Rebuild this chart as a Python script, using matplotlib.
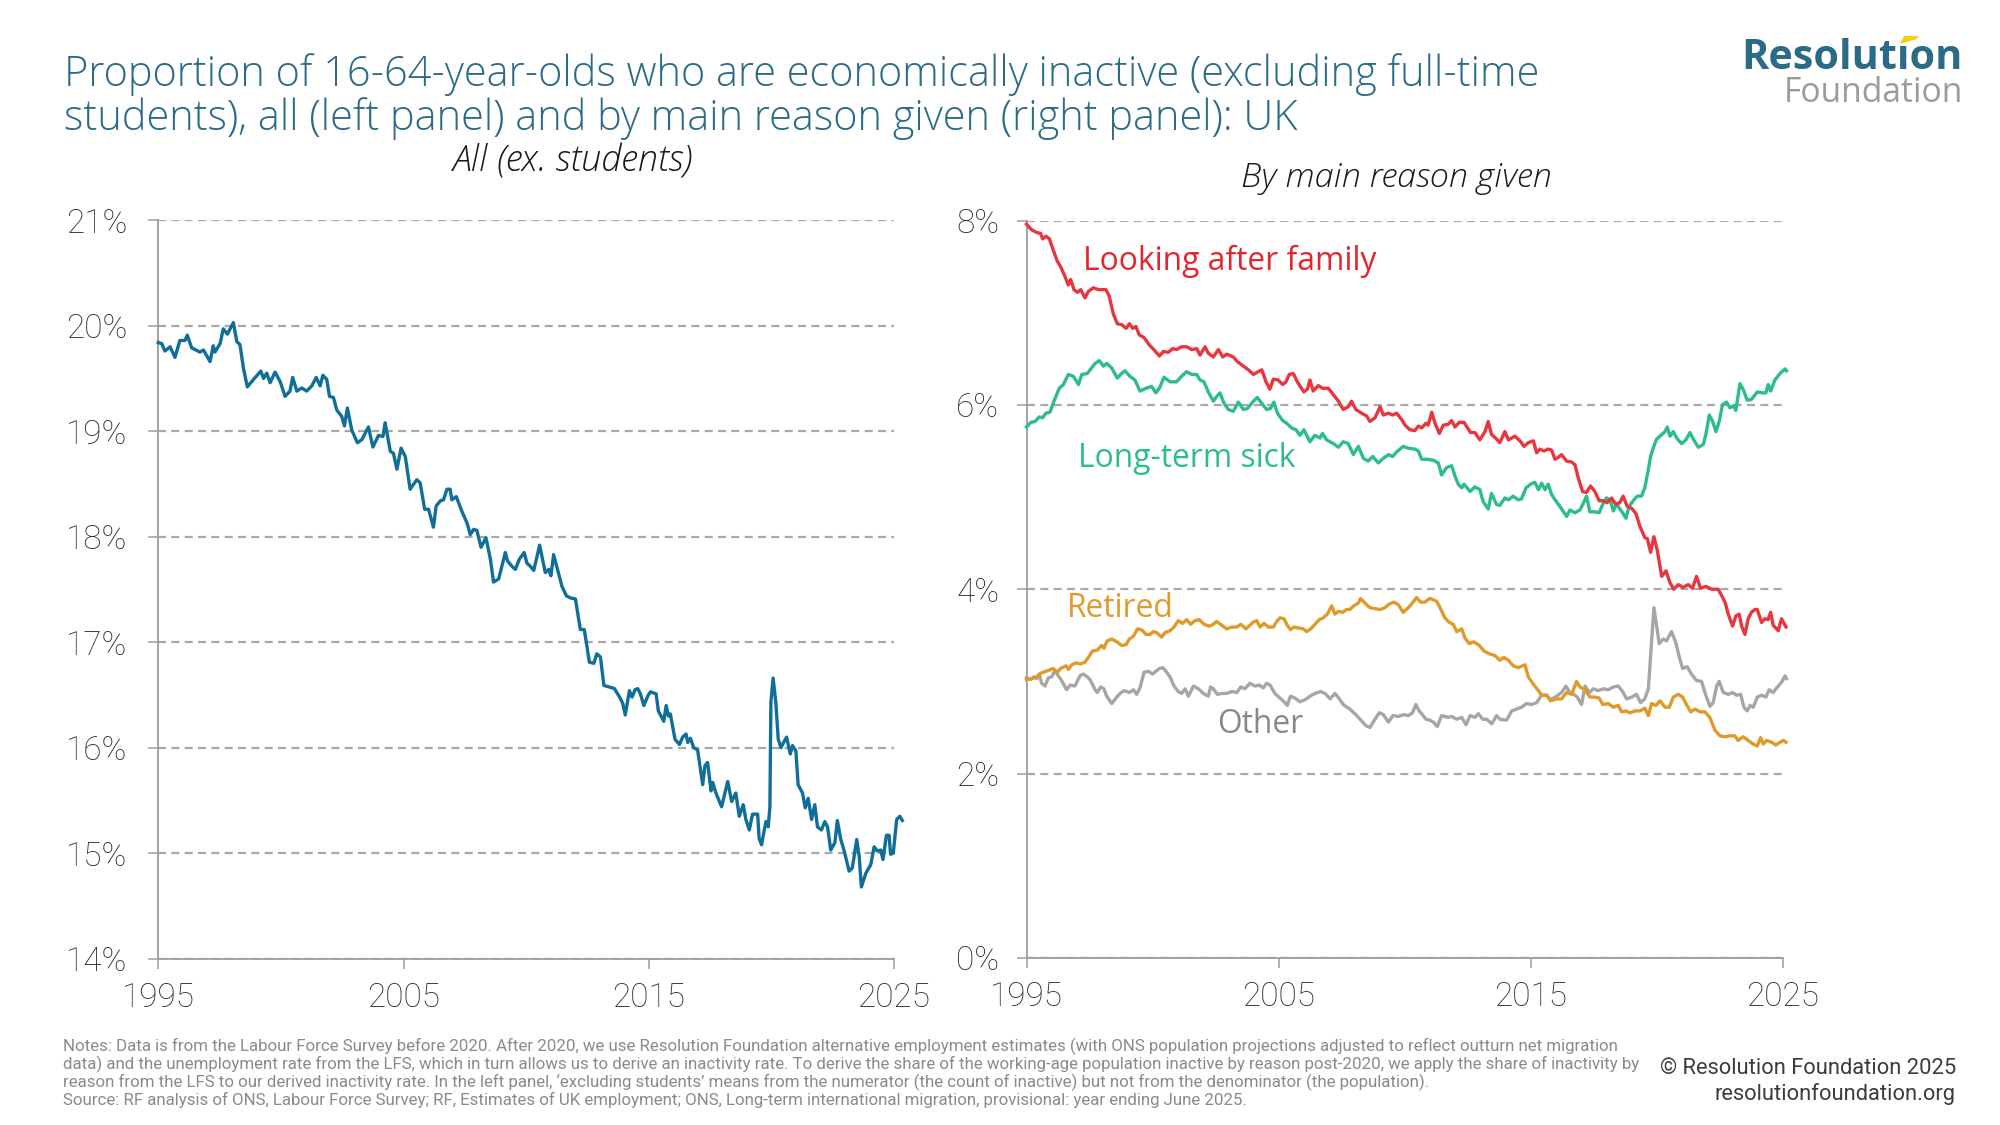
import matplotlib
matplotlib.use("Agg")
import matplotlib.pyplot as plt
from matplotlib.patches import Polygon

# ---------------- data ----------------
x_ticks = [1995, 2005, 2015, 2025]
left_y_ticks = [14, 15, 16, 17, 18, 19, 20, 21]
right_y_ticks = [0, 2, 4, 6, 8]

# All inactive (ex. students), % of 16-64 population
all_inactive = [
    (1995.00, 19.84), (1995.14, 19.83), (1995.27, 19.76), (1995.48, 19.80), (1995.68, 19.70),
    (1995.88, 19.86), (1996.09, 19.86), (1996.18, 19.91), (1996.36, 19.79), (1996.70, 19.75),
    (1996.84, 19.77), (1997.11, 19.66), (1997.24, 19.81), (1997.31, 19.75), (1997.52, 19.83),
    (1997.65, 19.97), (1997.82, 19.92), (1998.06, 20.03), (1998.20, 19.85), (1998.33, 19.82),
    (1998.47, 19.60), (1998.63, 19.42), (1998.88, 19.49), (1999.18, 19.57), (1999.29, 19.50),
    (1999.42, 19.55), (1999.56, 19.46), (1999.76, 19.56), (1999.97, 19.47), (2000.17, 19.33),
    (2000.37, 19.38), (2000.48, 19.51), (2000.65, 19.38), (2000.85, 19.41), (2001.05, 19.38),
    (2001.26, 19.43), (2001.44, 19.51), (2001.60, 19.43), (2001.71, 19.53), (2001.87, 19.49),
    (2001.98, 19.33), (2002.14, 19.32), (2002.28, 19.20), (2002.48, 19.14), (2002.59, 19.05),
    (2002.71, 19.22), (2002.89, 19.01), (2003.12, 18.89), (2003.30, 18.92), (2003.57, 19.04),
    (2003.75, 18.85), (2003.98, 18.96), (2004.16, 18.95), (2004.25, 19.08), (2004.46, 18.81),
    (2004.59, 18.79), (2004.73, 18.64), (2004.90, 18.84), (2005.07, 18.76), (2005.27, 18.45),
    (2005.54, 18.54), (2005.68, 18.51), (2005.86, 18.26), (2006.02, 18.26), (2006.22, 18.09),
    (2006.33, 18.29), (2006.50, 18.34), (2006.63, 18.35), (2006.77, 18.45), (2006.90, 18.45),
    (2006.97, 18.35), (2007.15, 18.38), (2007.38, 18.24), (2007.59, 18.13), (2007.72, 18.02),
    (2007.86, 18.07), (2007.99, 18.06), (2008.16, 17.90), (2008.36, 17.99), (2008.54, 17.79),
    (2008.67, 17.57), (2008.88, 17.60), (2009.01, 17.72), (2009.15, 17.85), (2009.24, 17.77),
    (2009.42, 17.72), (2009.56, 17.69), (2009.73, 17.79), (2009.92, 17.85), (2010.03, 17.75),
    (2010.17, 17.72), (2010.31, 17.68), (2010.55, 17.92), (2010.78, 17.66), (2010.92, 17.69),
    (2011.01, 17.63), (2011.12, 17.83), (2011.46, 17.53), (2011.64, 17.44), (2011.80, 17.42),
    (2012.01, 17.41), (2012.21, 17.12), (2012.37, 17.12), (2012.58, 16.81), (2012.76, 16.80),
    (2012.88, 16.89), (2013.03, 16.86), (2013.17, 16.59), (2013.47, 16.57), (2013.60, 16.56),
    (2013.81, 16.48), (2013.94, 16.42), (2014.04, 16.31), (2014.21, 16.54), (2014.32, 16.48),
    (2014.44, 16.55), (2014.55, 16.56), (2014.66, 16.51), (2014.80, 16.40), (2014.96, 16.49),
    (2015.07, 16.53), (2015.30, 16.51), (2015.39, 16.35), (2015.50, 16.30), (2015.61, 16.25),
    (2015.71, 16.40), (2015.80, 16.30), (2015.88, 16.32), (2016.07, 16.08), (2016.25, 16.03),
    (2016.38, 16.10), (2016.52, 16.13), (2016.59, 16.05), (2016.70, 16.09), (2016.83, 16.00),
    (2016.99, 15.98), (2017.06, 15.87), (2017.20, 15.65), (2017.29, 15.83), (2017.40, 15.86),
    (2017.54, 15.59), (2017.61, 15.67), (2017.74, 15.57), (2017.97, 15.44), (2018.22, 15.68),
    (2018.38, 15.49), (2018.55, 15.57), (2018.69, 15.35), (2018.85, 15.46), (2018.96, 15.32),
    (2019.10, 15.22), (2019.23, 15.37), (2019.44, 15.37), (2019.50, 15.14), (2019.60, 15.08),
    (2019.71, 15.22), (2019.78, 15.30), (2019.87, 15.25), (2019.94, 15.44), (2019.98, 16.43),
    (2020.07, 16.66), (2020.18, 16.43), (2020.28, 16.08), (2020.39, 16.00), (2020.50, 16.05),
    (2020.62, 16.10), (2020.77, 15.94), (2020.86, 16.02), (2021.00, 15.97), (2021.09, 15.65),
    (2021.27, 15.57), (2021.38, 15.43), (2021.50, 15.52), (2021.64, 15.32), (2021.77, 15.46),
    (2021.88, 15.25), (2022.04, 15.22), (2022.18, 15.30), (2022.29, 15.25), (2022.42, 15.03),
    (2022.59, 15.10), (2022.69, 15.31), (2022.83, 15.13), (2022.96, 15.03), (2023.17, 14.83),
    (2023.30, 14.86), (2023.48, 15.13), (2023.58, 14.97), (2023.67, 14.68), (2023.85, 14.81),
    (2024.05, 14.89), (2024.19, 15.06), (2024.32, 15.02), (2024.46, 15.03), (2024.55, 14.94),
    (2024.69, 15.17), (2024.80, 15.17), (2024.86, 14.99), (2024.97, 15.00), (2025.11, 15.32),
    (2025.24, 15.35), (2025.34, 15.31),
]

# By main reason (% of 16-64 population)
looking_after_family = [
    (1995.00, 7.96), (1995.20, 7.90), (1995.40, 7.87), (1995.56, 7.86), (1995.64, 7.80),
    (1995.77, 7.83), (1995.91, 7.80), (1996.06, 7.68), (1996.22, 7.56), (1996.35, 7.50),
    (1996.53, 7.39), (1996.66, 7.30), (1996.75, 7.36), (1996.88, 7.25), (1997.02, 7.22),
    (1997.15, 7.25), (1997.32, 7.16), (1997.45, 7.23), (1997.65, 7.27), (1997.85, 7.25),
    (1998.15, 7.25), (1998.28, 7.18), (1998.44, 6.99), (1998.60, 6.88), (1998.78, 6.87),
    (1998.95, 6.83), (1999.08, 6.88), (1999.21, 6.83), (1999.34, 6.85), (1999.47, 6.76),
    (1999.66, 6.73), (1999.87, 6.65), (2000.05, 6.60), (2000.27, 6.53), (2000.43, 6.58),
    (2000.62, 6.57), (2000.80, 6.61), (2000.95, 6.60), (2001.15, 6.63), (2001.35, 6.63),
    (2001.55, 6.60), (2001.75, 6.61), (2001.88, 6.54), (2002.08, 6.63), (2002.21, 6.56),
    (2002.41, 6.52), (2002.61, 6.60), (2002.78, 6.52), (2002.94, 6.55), (2003.20, 6.52),
    (2003.36, 6.47), (2003.60, 6.42), (2003.80, 6.38), (2004.00, 6.33), (2004.19, 6.36),
    (2004.33, 6.38), (2004.50, 6.25), (2004.65, 6.17), (2004.79, 6.28), (2004.98, 6.27),
    (2005.16, 6.22), (2005.29, 6.25), (2005.42, 6.33), (2005.58, 6.34), (2005.74, 6.25),
    (2006.00, 6.14), (2006.14, 6.17), (2006.24, 6.27), (2006.37, 6.15), (2006.57, 6.21),
    (2006.74, 6.18), (2006.97, 6.18), (2007.17, 6.11), (2007.37, 6.04), (2007.56, 5.95),
    (2007.76, 5.98), (2007.89, 6.04), (2008.06, 5.95), (2008.29, 5.91), (2008.49, 5.88),
    (2008.62, 5.82), (2008.82, 5.86), (2009.02, 5.98), (2009.15, 5.89), (2009.35, 5.91),
    (2009.52, 5.89), (2009.68, 5.91), (2009.88, 5.84), (2010.01, 5.78), (2010.21, 5.73),
    (2010.40, 5.72), (2010.54, 5.77), (2010.67, 5.75), (2010.84, 5.80), (2010.93, 5.78),
    (2011.07, 5.92), (2011.20, 5.80), (2011.37, 5.69), (2011.53, 5.78), (2011.73, 5.79),
    (2011.86, 5.83), (2011.99, 5.76), (2012.16, 5.81), (2012.35, 5.81), (2012.61, 5.70),
    (2012.78, 5.70), (2012.98, 5.62), (2013.18, 5.71), (2013.31, 5.82), (2013.44, 5.68),
    (2013.64, 5.63), (2013.77, 5.59), (2013.97, 5.71), (2014.11, 5.62), (2014.37, 5.66),
    (2014.57, 5.61), (2014.73, 5.55), (2014.90, 5.59), (2015.10, 5.61), (2015.23, 5.48),
    (2015.36, 5.52), (2015.52, 5.50), (2015.69, 5.52), (2015.82, 5.51), (2015.96, 5.41),
    (2016.09, 5.43), (2016.22, 5.46), (2016.42, 5.39), (2016.62, 5.38), (2016.75, 5.35),
    (2016.88, 5.21), (2017.05, 5.06), (2017.21, 5.05), (2017.37, 5.12), (2017.54, 5.06),
    (2017.71, 4.96), (2017.87, 4.96), (2018.03, 4.94), (2018.20, 4.99), (2018.37, 4.92),
    (2018.53, 4.94), (2018.66, 5.01), (2018.82, 4.90), (2018.99, 4.88), (2019.17, 4.82),
    (2019.33, 4.68), (2019.52, 4.56), (2019.62, 4.55), (2019.75, 4.40), (2019.88, 4.57),
    (2020.01, 4.43), (2020.19, 4.14), (2020.36, 4.20), (2020.52, 4.07), (2020.67, 4.00),
    (2020.85, 4.05), (2021.04, 4.02), (2021.24, 4.05), (2021.41, 4.01), (2021.57, 4.14),
    (2021.73, 4.01), (2021.94, 4.03), (2022.17, 4.00), (2022.43, 4.00), (2022.57, 3.93),
    (2022.70, 3.86), (2022.83, 3.73), (2023.00, 3.60), (2023.13, 3.71), (2023.26, 3.73),
    (2023.36, 3.60), (2023.49, 3.51), (2023.62, 3.68), (2023.75, 3.75), (2023.89, 3.78),
    (2023.98, 3.78), (2024.15, 3.64), (2024.28, 3.68), (2024.41, 3.67), (2024.51, 3.75),
    (2024.61, 3.61), (2024.81, 3.55), (2024.94, 3.68), (2025.12, 3.59),
]

long_term_sick = [
    (1995.00, 5.76), (1995.17, 5.81), (1995.34, 5.82), (1995.51, 5.87), (1995.64, 5.86),
    (1995.77, 5.91), (1995.93, 5.92), (1996.09, 6.04), (1996.30, 6.18), (1996.46, 6.22),
    (1996.66, 6.33), (1996.86, 6.31), (1997.06, 6.22), (1997.19, 6.33), (1997.41, 6.34),
    (1997.58, 6.40), (1997.72, 6.45), (1997.89, 6.48), (1998.05, 6.42), (1998.18, 6.45),
    (1998.38, 6.40), (1998.60, 6.29), (1998.77, 6.34), (1998.90, 6.37), (1999.10, 6.31),
    (1999.30, 6.27), (1999.50, 6.15), (1999.74, 6.18), (1999.96, 6.20), (2000.13, 6.13),
    (2000.29, 6.19), (2000.45, 6.30), (2000.69, 6.25), (2000.95, 6.25), (2001.15, 6.31),
    (2001.35, 6.36), (2001.55, 6.33), (2001.75, 6.33), (2001.88, 6.27), (2002.04, 6.25),
    (2002.21, 6.14), (2002.41, 6.04), (2002.54, 6.09), (2002.67, 6.13), (2002.83, 6.02),
    (2003.00, 5.95), (2003.20, 5.93), (2003.40, 6.03), (2003.60, 5.95), (2003.76, 5.96),
    (2004.00, 6.04), (2004.15, 6.08), (2004.32, 6.02), (2004.52, 5.95), (2004.68, 5.96),
    (2004.81, 6.03), (2004.95, 5.91), (2005.16, 5.83), (2005.32, 5.80), (2005.51, 5.75),
    (2005.69, 5.73), (2005.84, 5.67), (2006.00, 5.73), (2006.24, 5.60), (2006.44, 5.67),
    (2006.64, 5.64), (2006.74, 5.69), (2006.90, 5.62), (2007.17, 5.58), (2007.37, 5.54),
    (2007.56, 5.60), (2007.76, 5.58), (2007.96, 5.46), (2008.16, 5.55), (2008.36, 5.42),
    (2008.55, 5.39), (2008.73, 5.44), (2008.95, 5.37), (2009.15, 5.42), (2009.35, 5.46),
    (2009.52, 5.44), (2009.68, 5.49), (2009.94, 5.55), (2010.14, 5.53), (2010.40, 5.52),
    (2010.54, 5.50), (2010.67, 5.41), (2010.87, 5.41), (2011.13, 5.40), (2011.33, 5.37),
    (2011.46, 5.24), (2011.66, 5.32), (2011.86, 5.34), (2011.99, 5.23), (2012.12, 5.14),
    (2012.26, 5.10), (2012.35, 5.14), (2012.59, 5.06), (2012.78, 5.11), (2012.98, 5.08),
    (2013.11, 4.95), (2013.31, 4.87), (2013.44, 5.04), (2013.64, 4.92), (2013.77, 4.91),
    (2013.97, 4.99), (2014.11, 4.97), (2014.30, 5.01), (2014.50, 4.97), (2014.63, 4.98),
    (2014.81, 5.10), (2014.99, 5.14), (2015.16, 5.16), (2015.30, 5.08), (2015.43, 5.15),
    (2015.56, 5.08), (2015.69, 5.14), (2015.82, 5.03), (2015.96, 4.97), (2016.15, 4.90),
    (2016.42, 4.79), (2016.55, 4.86), (2016.75, 4.83), (2016.95, 4.86), (2017.11, 4.95),
    (2017.21, 5.01), (2017.34, 4.84), (2017.54, 4.84), (2017.71, 4.83), (2017.85, 4.92),
    (2018.00, 4.99), (2018.14, 4.97), (2018.27, 4.85), (2018.40, 4.93), (2018.53, 4.87),
    (2018.64, 4.83), (2018.77, 4.77), (2018.90, 4.90), (2019.06, 4.96), (2019.22, 5.01),
    (2019.39, 5.01), (2019.52, 5.10), (2019.66, 5.30), (2019.75, 5.44), (2019.85, 5.53),
    (2019.99, 5.63), (2020.12, 5.66), (2020.32, 5.71), (2020.41, 5.76), (2020.52, 5.66),
    (2020.65, 5.71), (2020.81, 5.63), (2020.98, 5.58), (2021.15, 5.62), (2021.31, 5.70),
    (2021.44, 5.63), (2021.64, 5.54), (2021.84, 5.57), (2021.94, 5.68), (2022.08, 5.89),
    (2022.21, 5.82), (2022.34, 5.71), (2022.47, 5.82), (2022.60, 6.00), (2022.76, 6.03),
    (2022.89, 5.97), (2023.03, 5.99), (2023.13, 5.94), (2023.29, 6.23), (2023.42, 6.17),
    (2023.58, 6.05), (2023.75, 6.06), (2023.98, 6.14), (2024.19, 6.13), (2024.32, 6.13),
    (2024.41, 6.22), (2024.51, 6.15), (2024.68, 6.27), (2024.88, 6.34), (2025.08, 6.39),
    (2025.14, 6.37),
]

retired = [
    (1995.00, 3.02), (1995.20, 3.03), (1995.40, 3.05), (1995.51, 3.08), (1995.67, 3.10),
    (1995.87, 3.12), (1996.06, 3.14), (1996.22, 3.10), (1996.35, 3.14), (1996.57, 3.17),
    (1996.66, 3.13), (1996.79, 3.18), (1996.96, 3.20), (1997.15, 3.19), (1997.32, 3.21),
    (1997.45, 3.26), (1997.62, 3.33), (1997.81, 3.34), (1997.98, 3.39), (1998.07, 3.36),
    (1998.20, 3.44), (1998.38, 3.46), (1998.58, 3.43), (1998.77, 3.39), (1998.95, 3.40),
    (1999.08, 3.46), (1999.24, 3.49), (1999.40, 3.57), (1999.57, 3.56), (1999.74, 3.51),
    (1999.90, 3.51), (2000.03, 3.54), (2000.16, 3.53), (2000.36, 3.48), (2000.49, 3.53),
    (2000.69, 3.55), (2000.85, 3.59), (2001.02, 3.66), (2001.19, 3.63), (2001.35, 3.67),
    (2001.51, 3.62), (2001.68, 3.66), (2001.85, 3.67), (2002.04, 3.62), (2002.25, 3.60),
    (2002.41, 3.62), (2002.54, 3.65), (2002.74, 3.61), (2002.94, 3.57), (2003.14, 3.59),
    (2003.34, 3.59), (2003.50, 3.62), (2003.70, 3.57), (2003.86, 3.61), (2003.97, 3.64),
    (2004.13, 3.66), (2004.26, 3.59), (2004.42, 3.63), (2004.59, 3.59), (2004.79, 3.59),
    (2004.92, 3.65), (2005.05, 3.69), (2005.21, 3.68), (2005.34, 3.61), (2005.47, 3.56),
    (2005.60, 3.59), (2005.78, 3.58), (2005.98, 3.57), (2006.11, 3.54), (2006.27, 3.57),
    (2006.44, 3.62), (2006.61, 3.67), (2006.77, 3.69), (2006.93, 3.73), (2007.10, 3.82),
    (2007.23, 3.73), (2007.37, 3.76), (2007.54, 3.75), (2007.69, 3.78), (2007.82, 3.78),
    (2007.98, 3.82), (2008.16, 3.85), (2008.25, 3.90), (2008.42, 3.85), (2008.62, 3.80),
    (2008.82, 3.79), (2009.02, 3.78), (2009.21, 3.80), (2009.39, 3.84), (2009.57, 3.86),
    (2009.75, 3.83), (2009.94, 3.75), (2010.14, 3.80), (2010.27, 3.84), (2010.47, 3.91),
    (2010.63, 3.86), (2010.80, 3.86), (2010.99, 3.90), (2011.10, 3.89), (2011.26, 3.87),
    (2011.40, 3.80), (2011.59, 3.69), (2011.77, 3.64), (2011.92, 3.62), (2012.06, 3.54),
    (2012.26, 3.57), (2012.39, 3.47), (2012.56, 3.41), (2012.74, 3.43), (2012.96, 3.39),
    (2013.14, 3.33), (2013.35, 3.30), (2013.58, 3.28), (2013.77, 3.23), (2013.93, 3.26),
    (2014.11, 3.23), (2014.30, 3.17), (2014.50, 3.15), (2014.77, 3.18), (2014.90, 3.05),
    (2015.10, 2.97), (2015.30, 2.90), (2015.43, 2.85), (2015.63, 2.85), (2015.78, 2.79),
    (2016.02, 2.81), (2016.22, 2.81), (2016.42, 2.88), (2016.62, 2.86), (2016.81, 3.00),
    (2016.95, 2.94), (2017.15, 2.91), (2017.34, 2.83), (2017.54, 2.83), (2017.71, 2.82),
    (2017.85, 2.75), (2018.07, 2.76), (2018.27, 2.72), (2018.47, 2.74), (2018.60, 2.67),
    (2018.77, 2.68), (2018.93, 2.66), (2019.13, 2.68), (2019.33, 2.68), (2019.52, 2.71),
    (2019.66, 2.63), (2019.79, 2.76), (2019.96, 2.74), (2020.12, 2.79), (2020.32, 2.72),
    (2020.49, 2.72), (2020.65, 2.83), (2020.85, 2.86), (2021.02, 2.83), (2021.15, 2.76),
    (2021.34, 2.67), (2021.51, 2.70), (2021.71, 2.67), (2021.90, 2.67), (2022.10, 2.61),
    (2022.30, 2.47), (2022.50, 2.41), (2022.70, 2.40), (2022.89, 2.41), (2023.09, 2.41),
    (2023.22, 2.36), (2023.42, 2.40), (2023.62, 2.36), (2023.82, 2.32), (2023.98, 2.30),
    (2024.11, 2.39), (2024.22, 2.32), (2024.35, 2.36), (2024.55, 2.34), (2024.72, 2.31),
    (2024.88, 2.34), (2025.01, 2.36), (2025.12, 2.34),
]

other = [
    (1995.00, 3.04), (1995.17, 3.02), (1995.30, 3.05), (1995.40, 3.03), (1995.51, 3.08),
    (1995.60, 2.98), (1995.73, 2.95), (1995.87, 3.04), (1996.00, 3.05), (1996.13, 3.12),
    (1996.26, 3.06), (1996.39, 3.01), (1996.59, 2.91), (1996.73, 2.96), (1996.92, 2.95),
    (1997.12, 3.06), (1997.25, 3.08), (1997.41, 3.05), (1997.54, 3.01), (1997.72, 2.91),
    (1997.81, 2.88), (1997.94, 2.94), (1998.07, 2.92), (1998.18, 2.84), (1998.38, 2.76),
    (1998.55, 2.82), (1998.71, 2.87), (1998.87, 2.90), (1999.08, 2.88), (1999.24, 2.91),
    (1999.37, 2.86), (1999.50, 2.93), (1999.66, 3.10), (1999.83, 3.11), (2000.00, 3.08),
    (2000.13, 3.11), (2000.27, 3.14), (2000.40, 3.15), (2000.53, 3.11), (2000.69, 3.05),
    (2000.85, 2.95), (2001.02, 2.89), (2001.15, 2.87), (2001.29, 2.92), (2001.42, 2.84),
    (2001.62, 2.95), (2001.82, 2.92), (2002.01, 2.87), (2002.21, 2.84), (2002.30, 2.94),
    (2002.41, 2.92), (2002.57, 2.86), (2002.74, 2.87), (2002.94, 2.87), (2003.14, 2.89),
    (2003.34, 2.88), (2003.50, 2.94), (2003.66, 2.92), (2003.86, 2.98), (2004.06, 2.95),
    (2004.23, 2.96), (2004.39, 2.93), (2004.52, 2.98), (2004.66, 2.96), (2004.85, 2.87),
    (2005.05, 2.82), (2005.25, 2.77), (2005.34, 2.74), (2005.47, 2.84), (2005.64, 2.82),
    (2005.84, 2.78), (2006.04, 2.80), (2006.24, 2.84), (2006.44, 2.87), (2006.66, 2.89),
    (2006.84, 2.87), (2007.04, 2.81), (2007.23, 2.87), (2007.41, 2.81), (2007.56, 2.75),
    (2007.82, 2.70), (2008.06, 2.64), (2008.29, 2.57), (2008.46, 2.52), (2008.62, 2.50),
    (2008.82, 2.59), (2008.99, 2.66), (2009.15, 2.64), (2009.35, 2.56), (2009.54, 2.63),
    (2009.74, 2.62), (2009.97, 2.64), (2010.14, 2.63), (2010.31, 2.66), (2010.44, 2.75),
    (2010.57, 2.68), (2010.70, 2.64), (2010.84, 2.59), (2010.99, 2.58), (2011.13, 2.56),
    (2011.29, 2.51), (2011.46, 2.63), (2011.72, 2.61), (2011.86, 2.62), (2012.06, 2.59),
    (2012.26, 2.61), (2012.43, 2.53), (2012.59, 2.63), (2012.78, 2.61), (2012.92, 2.65),
    (2013.09, 2.59), (2013.25, 2.59), (2013.45, 2.54), (2013.64, 2.63), (2013.77, 2.59),
    (2014.04, 2.58), (2014.24, 2.68), (2014.44, 2.70), (2014.63, 2.72), (2014.83, 2.76),
    (2015.03, 2.75), (2015.23, 2.77), (2015.43, 2.85), (2015.63, 2.85), (2015.78, 2.80),
    (2016.02, 2.84), (2016.22, 2.88), (2016.39, 2.95), (2016.55, 2.88), (2016.71, 2.86),
    (2016.84, 2.83), (2017.01, 2.75), (2017.15, 2.95), (2017.32, 2.88), (2017.48, 2.92),
    (2017.67, 2.90), (2017.87, 2.92), (2018.07, 2.91), (2018.27, 2.94), (2018.47, 2.95),
    (2018.64, 2.89), (2018.80, 2.81), (2019.00, 2.83), (2019.19, 2.86), (2019.35, 2.77),
    (2019.52, 2.81), (2019.66, 2.92), (2019.75, 3.28), (2019.88, 3.80), (2019.99, 3.60),
    (2020.09, 3.41), (2020.25, 3.46), (2020.38, 3.44), (2020.58, 3.54), (2020.75, 3.42),
    (2020.89, 3.26), (2021.02, 3.14), (2021.20, 3.16), (2021.37, 3.08), (2021.57, 3.01),
    (2021.77, 3.00), (2021.94, 2.85), (2022.10, 2.73), (2022.23, 2.77), (2022.37, 2.95),
    (2022.47, 3.00), (2022.63, 2.88), (2022.83, 2.86), (2023.00, 2.88), (2023.16, 2.85),
    (2023.32, 2.86), (2023.45, 2.72), (2023.58, 2.68), (2023.69, 2.74), (2023.82, 2.72),
    (2023.98, 2.83), (2024.15, 2.85), (2024.32, 2.83), (2024.45, 2.91), (2024.61, 2.88),
    (2024.81, 2.95), (2024.94, 2.99), (2025.08, 3.06), (2025.14, 3.03),
]

# ---------------- text ----------------
title_lines = [
    "Proportion of 16-64-year-olds who are economically inactive (excluding full-time",
    "students), all (left panel) and by main reason given (right panel): UK",
]
left_subtitle = "All (ex. students)"
right_subtitle = "By main reason given"
notes_lines = [
    "Notes: Data is from the Labour Force Survey before 2020. After 2020, we use Resolution Foundation alternative employment estimates (with ONS population projections adjusted to reflect outturn net migration",
    "data) and the unemployment rate from the LFS, which in turn allows us to derive an inactivity rate. To derive the share of the working-age population inactive by reason post-2020, we apply the share of inactivity by",
    "reason from the LFS to our derived inactivity rate. In the left panel, \u2018excluding students\u2019 means from the numerator (the count of inactive) but not from the denominator (the population).",
    "Source: RF analysis of ONS, Labour Force Survey; RF, Estimates of UK employment; ONS, Long-term international migration, provisional: year ending June 2025.",
]

# ---------------- style ----------------
W, H, DPI = 2000, 1125, 100
TEAL = "#2b6b86"
C_ALL = "#0f6f98"
C_FAM = "#e8363e"
C_SICK = "#2dbc8c"
C_RET = "#e09a2a"
C_OTH = "#a6a6a6"
GRID = "#a8a8a8"
AXC = "#9c9c9c"
TXT = "#2a2a2a"
SANS = ["Open Sans", "DejaVu Sans"]
TICKFONT = ["Liberation Sans Narrow", "Roboto", "DejaVu Sans"]

fig = plt.figure(figsize=(W / DPI, H / DPI), dpi=DPI)
fig.patch.set_facecolor("white")


def box(x0, y0, x1, y1):
    return [x0 / W, 1 - y1 / H, (x1 - x0) / W, (y1 - y0) / H]


def ptext(x, y, s, **kw):
    return fig.text(x / W, 1 - y / H, s, **kw)


axL = fig.add_axes(box(158.3, 220.2, 894.0, 958.7))
axR = fig.add_axes(box(1026.5, 220.5, 1783.0, 958.0))


def style(ax, ylim, yticks, ypad):
    ax.set_xlim(1995, 2025)
    ax.set_ylim(*ylim)
    ax.set_xticks(x_ticks)
    ax.set_xticklabels([str(v) for v in x_ticks])
    ax.set_yticks(yticks)
    ax.set_yticklabels([f"{v}%" for v in yticks])
    for s in ("top", "right"):
        ax.spines[s].set_visible(False)
    for s in ("left", "bottom"):
        ax.spines[s].set_color(AXC)
        ax.spines[s].set_linewidth(1.3)
    ax.grid(axis="y", color=GRID, lw=1.6, ls=(0, (3.6, 2.4)))
    ax.set_axisbelow(True)
    ax.tick_params(axis="both", length=7.5, width=1.1, color=AXC,
                   labelcolor=TXT, labelsize=24)
    ax.tick_params(axis="y", pad=ypad)
    ax.tick_params(axis="x", pad=9)
    for lab in ax.get_xticklabels() + ax.get_yticklabels():
        lab.set_family(TICKFONT)
        lab.set_fontweight("light")


style(axL, (14, 21), left_y_ticks, 15)
style(axR, (0, 8), right_y_ticks, 12)


def unzip(pairs):
    return [p[0] for p in pairs], [p[1] for p in pairs]


xs, ys = unzip(all_inactive)
axL.plot(xs, ys, color=C_ALL, lw=2.4, clip_on=False, solid_joinstyle="round", zorder=3)

for series, col in ((other, C_OTH), (retired, C_RET), (long_term_sick, C_SICK),
                    (looking_after_family, C_FAM)):
    xs, ys = unzip(series)
    axR.plot(xs, ys, color=col, lw=2.4, clip_on=False, solid_joinstyle="round", zorder=3)

# series labels (data coordinates)
lab_fam = axR.text(1997.24, 7.46, "Looking after family", color="#e3262e", fontsize=21,
                   family=SANS, va="baseline", ha="left")
lab_sick = axR.text(1997.04, 5.33, "Long-term sick", color=C_SICK, fontsize=21,
                    family=SANS, va="baseline", ha="left")
lab_ret = axR.text(1996.60, 3.70, "Retired", color="#e09a2a", fontsize=21,
                   family=SANS, va="baseline", ha="left")
lab_oth = axR.text(2002.55, 2.44, "Other", color="#888888", fontsize=21,
                   family=SANS, va="baseline", ha="left")

# titles
t1 = ptext(64, 86, title_lines[0], color=TEAL, fontsize=27, family=SANS,
           fontweight="light", va="baseline")
t2 = ptext(64, 130, title_lines[1], color=TEAL, fontsize=27, family=SANS,
           fontweight="light", va="baseline")
sL = ptext(573, 172, left_subtitle, color="#1a1a1a", fontsize=23, family=SANS,
           style="italic", fontweight="light", ha="center", va="baseline")
sR = ptext(1396, 187, right_subtitle, color="#1a1a1a", fontsize=23, family=SANS,
           style="italic", fontweight="light", ha="center", va="baseline")

# logo
logo1 = ptext(1963, 69, "Resolut\u0131on", color=TEAL, fontsize=26, family=SANS,
              fontweight="bold", ha="right", va="baseline")
logo2 = ptext(1963, 102, "Foundation", color="#9b9b9b", fontsize=24, family=SANS,
              ha="right", va="baseline")

# notes
notes = [ptext(63, 1051 + 18 * i, line, color="#8a8a8a", fontsize=10.5,
               family=TICKFONT, va="baseline") for i, line in enumerate(notes_lines)]
cp1 = ptext(1956, 1074, "\u00a9 Resolution Foundation 2025", color="#3c3c3c", fontsize=15,
            family=TICKFONT, ha="right", va="baseline")
cp2 = ptext(1956, 1100, "resolutionfoundation.org", color="#3c3c3c", fontsize=15,
            family=TICKFONT, ha="right", va="baseline")

# ---- fit text widths to the reference ----
fig.canvas.draw()
r = fig.canvas.get_renderer()


def width(t):
    return t.get_window_extent(renderer=r).width


def fit(t, target):
    t.set_fontsize(t.get_fontsize() * target / width(t))


fit(t1, 1477)
t2.set_fontsize(t1.get_fontsize())
fit(sL, 241)
fit(sR, 312)
fit(lab_fam, 289)
fit(lab_sick, 220)
fs = 0.5 * (lab_fam.get_fontsize() + lab_sick.get_fontsize())
for t in (lab_fam, lab_sick, lab_ret, lab_oth):
    t.set_fontsize(fs)
fit(logo1, 222)
fit(logo2, 180)
fit(notes[1], 1582)
for t in notes:
    t.set_fontsize(notes[1].get_fontsize())
fit(cp1, 296)
cp2.set_fontsize(cp1.get_fontsize())
fig.canvas.draw()

# yellow accent over the i of "Resolution"
bb = logo1.get_window_extent(renderer=r)
ax0 = bb.x0 + 0.715 * bb.width
ax1 = bb.x0 + 0.80 * bb.width
ytop = bb.y1 + 2
ybot = bb.y1 - 6
fx = lambda v: v / W
fy = lambda v: v / H
acc = Polygon([(fx(ax0), fy(ybot)), (fx(ax0 + 4), fy(ytop)), (fx(ax1), fy(ytop)),
               (fx(ax1 - 2), fy(ytop - 3))], closed=True, transform=fig.transFigure,
              facecolor="#f2d10a", edgecolor="none")
fig.patches.append(acc)

fig.savefig("out.png", dpi=DPI, facecolor="white")
